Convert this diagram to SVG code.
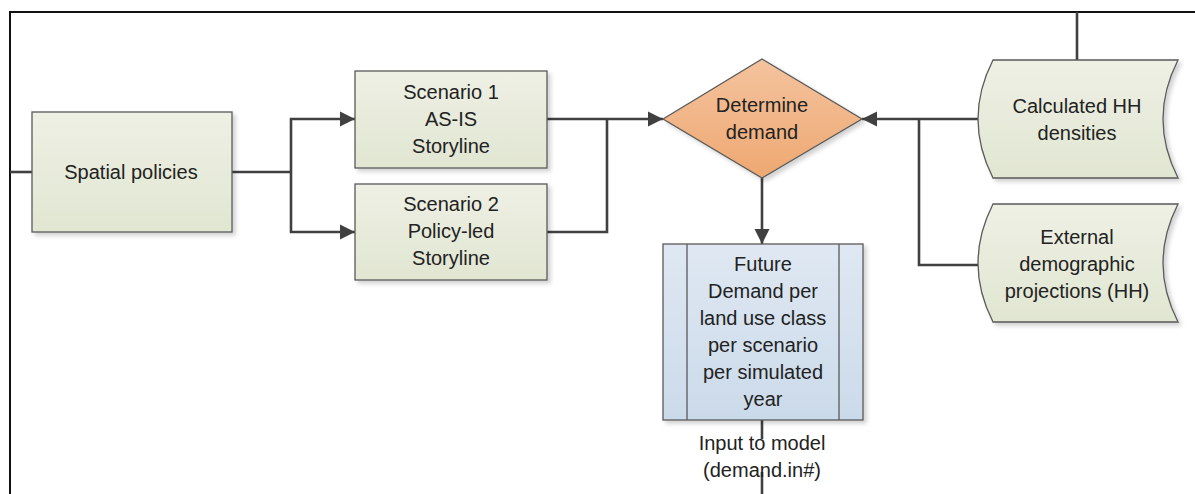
<svg xmlns="http://www.w3.org/2000/svg" width="1195" height="494" viewBox="0 0 1195 494">
<style>
text{font-family:"Liberation Sans",Arial,sans-serif;font-size:20px;fill:#222;text-anchor:middle}
.n{stroke:#5a5a5a;stroke-width:1.3;filter:url(#sh)}
.c{fill:none;stroke:#404040;stroke-width:2.6}
.a{marker-end:url(#ah)}
</style>
<defs>
<linearGradient id="gg" x1="0" y1="0" x2="0" y2="1"><stop offset="0" stop-color="#EEF0E4"/><stop offset="1" stop-color="#E1E6D2"/></linearGradient>
<linearGradient id="go" x1="0" y1="0" x2="0" y2="1"><stop offset="0" stop-color="#F4C39E"/><stop offset="1" stop-color="#EEA872"/></linearGradient>
<linearGradient id="gb" x1="0" y1="0" x2="0" y2="1"><stop offset="0" stop-color="#DFE8F2"/><stop offset="1" stop-color="#CBDAEA"/></linearGradient>
<filter id="sh" x="-10%" y="-10%" width="125%" height="125%"><feDropShadow dx="3" dy="3" stdDeviation="2" flood-color="#000" flood-opacity="0.18"/></filter>
<marker id="ah" viewBox="0 0 10 10" refX="10" refY="5" markerWidth="5.8" markerHeight="5.8" markerUnits="strokeWidth" orient="auto"><path d="M0,0 L10,5 L0,10 Z" fill="#404040"/></marker>
</defs>
<g id="frame" fill="none" stroke="#111" stroke-width="2"><path d="M10,494 V12 H1195"/></g>
<g id="connectors">
<path class="c" d="M10,172 H32"/>
<path class="c" d="M232,172 H291"/>
<path class="c a" d="M291,172 V119 H355"/>
<path class="c a" d="M291,172 V232 H355"/>
<path class="c a" d="M547,119 H663"/>
<path class="c" d="M547,232 H607 V119"/>
<path class="c a" d="M762,178 V244"/>
<path class="c" d="M1077,12 V60"/>
<path class="c a" d="M978,119 H862"/>
<path class="c" d="M978,265 H919 V119"/>
<path class="c" d="M762,420 V494"/>
</g>
<g id="spatial"><rect class="n" x="32" y="112" width="200" height="120" fill="url(#gg)"/><text x="131" y="179">Spatial policies</text></g>
<g id="scenario1"><rect class="n" x="355" y="71" width="192" height="97" fill="url(#gg)"/><text x="451" y="99">Scenario 1</text><text x="451" y="126">AS-IS</text><text x="451" y="153">Storyline</text></g>
<g id="scenario2"><rect class="n" x="355" y="184" width="192" height="96" fill="url(#gg)"/><text x="451" y="211">Scenario 2</text><text x="451" y="238">Policy-led</text><text x="451" y="265">Storyline</text></g>
<g id="determine"><path class="n" d="M663,119 L762,59 L862,119 L762,178 Z" fill="url(#go)"/><text x="762" y="112">Determine</text><text x="762" y="139">demand</text></g>
<g id="future"><rect class="n" x="663" y="244" width="200" height="176" fill="url(#gb)"/><path d="M687,244 V420 M839,244 V420" stroke="#5a5a5a" stroke-width="1.3"/>
<text x="763" y="271">Future</text><text x="763" y="298">Demand per</text><text x="763" y="325">land use class</text><text x="763" y="352">per scenario</text><text x="763" y="379">per simulated</text><text x="763" y="406">year</text></g>
<g id="label"><rect x="698" y="439" width="129" height="33" fill="#fff"/><text x="762" y="450">Input to model</text><text x="762" y="477">(demand.in#)</text></g>
<g id="calculated"><path class="n" d="M993,60 H1178 Q1148,119 1178,178 H993 Q963,119 993,60 Z" fill="url(#gg)"/><text x="1077" y="113">Calculated HH</text><text x="1077" y="140">densities</text></g>
<g id="external"><path class="n" d="M993,204 H1178 Q1148,263 1178,322 H993 Q963,263 993,204 Z" fill="url(#gg)"/><text x="1077" y="244">External</text><text x="1077" y="271">demographic</text><text x="1077" y="298">projections (HH)</text></g>
</svg>
